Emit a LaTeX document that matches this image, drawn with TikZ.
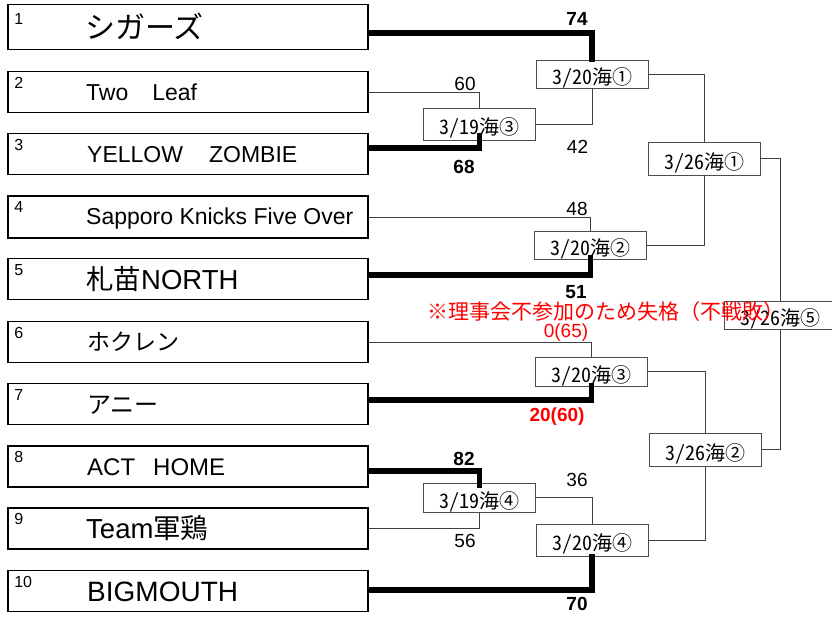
\documentclass[tikz,border=0pt]{standalone}
\usepackage{fontspec}
\setmainfont{Liberation Sans}
\newfontfamily\jp{Noto Sans CJK JP}
\newfontfamily\jph[CharacterWidth=Half]{Noto Sans CJK JP}
\newcommand\fsz[1]{\fontsize{#1}{#1}\selectfont}
\begin{document}
\begin{tikzpicture}[x=1pt,y=-1pt,
  team/.style={draw=black, line width=1.8pt, minimum width=360pt, minimum height=41pt, inner sep=0pt},
  match/.style={draw=black!70, line width=0.9pt, fill=white, minimum width=112pt, minimum height=28pt, inner sep=0pt, text height=21.2pt, text depth=0pt, font=\jph\fsz{20}},
  win/.style={line width=5.5pt, draw=black},
  lose/.style={line width=0.9pt, draw=black!75},
  tnum/.style={anchor=base west, inner sep=0pt, font=\fsz{16}},
  tname/.style={anchor=base west, inner sep=0pt},
  score/.style={inner sep=0pt, font=\fsz{19}},
  wscore/.style={inner sep=0pt, font=\bfseries\fsz{19}},
  note/.style={inner sep=0pt, text=red}]
\useasboundingbox (0,0) rectangle (832,616);

% team boxes
\node[team, minimum height=45pt] (t1) at (188,27) {};
\node[team] (t2) at (188,92) {};
\node[team] (t3) at (188,154) {};
\node[team, minimum height=42pt] (t4) at (188,217) {};
\node[team] (t5) at (188,279) {};
\node[team] (t6) at (188,342) {};
\node[team] (t7) at (188,404) {};
\node[team] (t8) at (188,466.5) {};
\node[team] (t9) at (188,528.5) {};
\node[team] (t10) at (188,591) {};

% seed numbers
\node[tnum] (n1) at ([shift={(7pt,-20.5pt)}]t1.north west) {1};
\node[tnum] (n2) at ([shift={(7pt,-17.5pt)}]t2.north west) {2};
\node[tnum] (n3) at ([shift={(7pt,-17.5pt)}]t3.north west) {3};
\node[tnum] (n4) at ([shift={(7pt,-17.5pt)}]t4.north west) {4};
\node[tnum] (n5) at ([shift={(7pt,-17.5pt)}]t5.north west) {5};
\node[tnum] (n6) at ([shift={(7pt,-17.5pt)}]t6.north west) {6};
\node[tnum] (n7) at ([shift={(7pt,-17.5pt)}]t7.north west) {7};
\node[tnum] (n8) at ([shift={(7pt,-17.5pt)}]t8.north west) {8};
\node[tnum] (n9) at ([shift={(7pt,-17.5pt)}]t9.north west) {9};
\node[tnum] (n10) at ([shift={(7pt,-17.5pt)}]t10.north west) {10};

% team names
\node[tname, font=\jp\fsz{30}] (m1) at (85,38.2) {シガーズ};
\node[tname, font=\fsz{23}] (m2) at (86,100.3) {Two\hspace{24pt}Leaf};
\node[tname, font=\fsz{23}] (m3) at (87,162.5) {YELLOW\hspace{26pt}ZOMBIE};
\node[tname, font=\fsz{23}] (m4) at (86,224.5) {Sapporo Knicks Five Over};
\node[tname, font=\fsz{27.5}] (m5) at (86,289.2) {{\jp 札苗}NORTH};
\node[tname, font=\jp\fsz{23}] (m6) at (87,350.5) {ホクレン};
\node[tname, font=\jp\fsz{24}] (m7) at (87,413) {アニー};
\node[tname, font=\fsz{24}] (m8) at (87,475.4) {ACT\hspace{18pt}HOME};
\node[tname, font=\fsz{27.5}] (m9) at (86,538.7) {Team{\jp 軍鶏}};
\node[tname, font=\fsz{28}] (m10) at (87,601.4) {BIGMOUTH};

% match boxes
\node[match, minimum height=32pt] (A) at (479.5,124) {3/19海③};
\node[match, minimum height=29pt] (B) at (479.5,497.5) {3/19海④};
\node[match] (C1) at (592,74) {3/20海①};
\node[match] (C2) at (590.5,245) {3/20海②};
\node[match, minimum height=29pt] (C3) at (591.5,371.5) {3/20海③};
\node[match, minimum height=32pt] (C4) at (592,540) {3/20海④};
\node[match, minimum height=33pt] (D1) at (704,158.5) {3/26海①};
\node[match, minimum height=33pt] (D2) at (705.5,449.5) {3/26海②};
\node[match] (E) at (780,315) {3/26海⑤};

% losing (thin) connectors
\draw[lose] (t2.east) -| (A.north);
\draw[lose] (t4.east) -| (C2.north);
\draw[lose] (t6.east) -| (C3.north);
\draw[lose] (t9.east) -| (B.south);
\draw[lose] (A.east) -| (C1.south);
\draw[lose] (B.east) -| (C4.north);
\draw[lose] (C1.east) -| (D1.north);
\draw[lose] (C2.east) -| (D1.south);
\draw[lose] (C3.east) -| (D2.north);
\draw[lose] (C4.east) -| (D2.south);
\draw[lose] (D1.east) -| (E.north);
\draw[lose] (D2.east) -| (E.south);

% winning (thick) connectors
\draw[win] ([yshift=-6pt]t1.east) -| ([yshift=-2pt]C1.north);
\draw[win] ([yshift=6pt]t3.east) -| ([yshift=7pt]A.south);
\draw[win] ([yshift=4pt]t5.east) -| ([yshift=4pt]C2.south);
\draw[win] ([yshift=4pt]t7.east) -| ([yshift=3pt]C3.south);
\draw[win] ([yshift=-4.5pt]t8.east) -| ([yshift=-5pt]B.north);
\draw[win] ([yshift=1pt]t10.east) -| ([yshift=2pt]C4.south);

% scores
\node[wscore] (s74) at (577,19) {74};
\node[score] (s60) at (465,84) {60};
\node[wscore] (s68) at (464,167) {68};
\node[score] (s42) at (577.5,147) {42};
\node[score] (s48) at (577,208.5) {48};
\node[wscore] (s51) at (576,292) {51};
\node[score, text=red] (s065) at (566,333) {0(65)};
\node[wscore, text=red] (s2060) at (557,417) {20(60)};
\node[wscore] (s82) at (464,458.5) {82};
\node[score] (s36) at (577,480) {36};
\node[score] (s56) at (465,541) {56};
\node[wscore] (s70) at (577,604) {70};

% note
\node[note, font=\jp\fsz{21}] (nt) at (606,312) {※理事会不参加のため失格（不戦敗）};
\end{tikzpicture}
\end{document}
